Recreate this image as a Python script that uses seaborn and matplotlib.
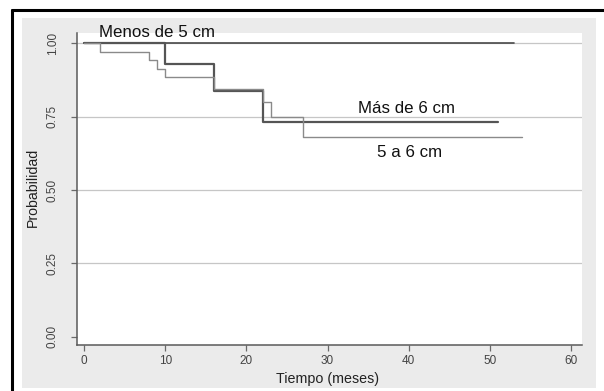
import matplotlib
matplotlib.use("Agg")
import matplotlib.pyplot as plt
import seaborn as sns
import pandas as pd
from matplotlib.patches import Rectangle
from matplotlib.lines import Line2D

# Kaplan-Meier step data (time in months, survival probability)
menos_t = [0, 53]
menos_s = [1.0, 1.0]
mas_t = [0, 10, 16, 22, 51]
mas_s = [1.0, 0.929, 0.839, 0.733, 0.733]
cinco_t = [0, 2, 8, 9, 10, 16, 22, 23, 27, 54]
cinco_s = [1.0, 0.971, 0.943, 0.914, 0.886, 0.843, 0.800, 0.748, 0.682, 0.682]

groups = ["Menos de 5 cm", "Más de 6 cm", "5 a 6 cm"]
x_ticks = [0, 10, 20, 30, 40, 50, 60]
y_ticks = [0.00, 0.25, 0.50, 0.75, 1.00]
x_label = "Tiempo (meses)"
y_label = "Probabilidad"

df = pd.concat([
    pd.DataFrame({"t": menos_t, "s": menos_s, "g": groups[0]}),
    pd.DataFrame({"t": mas_t, "s": mas_s, "g": groups[1]}),
    pd.DataFrame({"t": cinco_t, "s": cinco_s, "g": groups[2]}),
], ignore_index=True)

sns.set_theme(style="white")
plt.rcParams["font.family"] = ["Liberation Sans", "DejaVu Sans"]

W, H = 604, 391
fig = plt.figure(figsize=(W / 100, H / 100), dpi=100)
fig.patch.set_facecolor("white")

# light gray graph region
fig.patches.append(Rectangle((22 / W, 1 - 388 / H), (596 - 22) / W, (388 - 18) / H,
                             transform=fig.transFigure, facecolor="#ebebeb",
                             edgecolor="none", zorder=-5))
# black document border (top and left)
fig.lines.append(Line2D([12 / W, 1.0], [1 - 10 / H, 1 - 10 / H], transform=fig.transFigure,
                        color="black", lw=2.2, zorder=10))
fig.lines.append(Line2D([12 / W, 12 / W], [1 - 10 / H, 0.0], transform=fig.transFigure,
                        color="black", lw=2.2, zorder=10))

ax = fig.add_axes([76.7 / W, 1 - 345 / H, (581.7 - 76.7) / W, (345 - 33.3) / H])
ax.set_zorder(1)
ax.set_facecolor("white")

for y in [0.25, 0.50, 0.75, 1.00]:
    ax.axhline(y, color="#c6c6c6", lw=0.9, zorder=1)

palette = {groups[0]: "#4a4a4a", groups[1]: "#555555", groups[2]: "#8a8a8a"}
sizes = {groups[0]: 1.2, groups[1]: 1.6, groups[2]: 1.0}
sns.lineplot(data=df, x="t", y="s", hue="g", palette=palette, size="g", sizes=sizes,
             estimator=None, sort=False, drawstyle="steps-post", legend=False, ax=ax,
             zorder=3)

ax.set_xlim(-0.9, 61.3)
ax.set_ylim(-0.0276, 1.034)
ax.set_xticks(x_ticks)
ax.set_yticks(y_ticks)
ax.set_xticklabels([str(v) for v in x_ticks])
ax.set_yticklabels([f"{v:.2f}" for v in y_ticks], rotation=90, va="center")
ax.set_xlabel("")
ax.set_ylabel("")

for side in ["top", "right"]:
    ax.spines[side].set_visible(False)
for side in ["left", "bottom"]:
    ax.spines[side].set_color("#5a5a5a")
    ax.spines[side].set_linewidth(1.1)

ax.tick_params(axis="both", which="major", direction="out", length=4, width=0.9,
               color="#6a6a6a", labelsize=8.5, labelcolor="#444444")
ax.tick_params(axis="x", pad=3.5, bottom=True)
ax.tick_params(axis="y", pad=9, left=True)

ax.text(9.05, 1.0225, groups[0], ha="center", va="baseline", fontsize=12.2,
        color="#111111", clip_on=False, zorder=5)
ax.text(39.7, 0.7636, groups[1], ha="center", va="baseline", fontsize=12.2,
        color="#111111", zorder=5)
ax.text(40.1, 0.6117, groups[2], ha="center", va="baseline", fontsize=12.2,
        color="#111111", zorder=5)

fig.text(327.3 / W, 1 - 378.5 / H, x_label, ha="center", va="center", fontsize=10.3,
         color="#222222", zorder=5)
fig.text(33 / W, 1 - 187.3 / H, y_label, ha="center", va="center", rotation=90,
         fontsize=10.2, color="#222222", zorder=5)

fig.savefig("out.png", dpi=100)
